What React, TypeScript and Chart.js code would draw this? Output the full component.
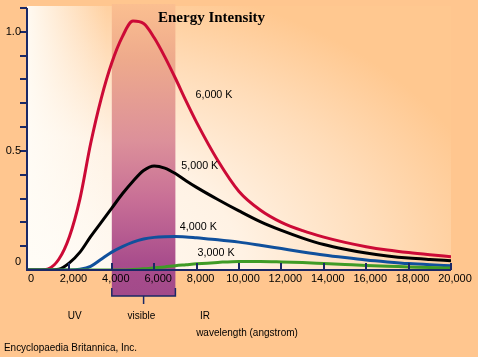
import React, { useEffect, useRef } from 'react';
import { Chart, registerables } from 'chart.js';

Chart.register(...registerables);

// ---- data ----
const wavelengths = [0, 500, 1000, 1500, 2000, 2500, 3000, 3500, 4000, 4500, 5000, 5500, 6000, 6500, 7000, 7500, 8000, 9000, 10000, 11000, 12000, 13000, 14000, 15000, 16000, 17000, 18000, 19000, 20000];
const intensity6000K = [0, 0, 0.005, 0.045, 0.14, 0.3, 0.53, 0.72, 0.87, 0.98, 1.045, 1.035, 0.975, 0.895, 0.805, 0.71, 0.62, 0.46, 0.33, 0.252, 0.2, 0.165, 0.138, 0.116, 0.098, 0.084, 0.073, 0.064, 0.056];
const intensity5000K = [0, 0, 0, 0.003, 0.03, 0.075, 0.14, 0.2, 0.26, 0.32, 0.373, 0.418, 0.437, 0.428, 0.405, 0.375, 0.347, 0.296, 0.248, 0.203, 0.166, 0.134, 0.107, 0.087, 0.071, 0.059, 0.05, 0.044, 0.039];
const intensity4000K = [0, 0, 0, 0, 0, 0.003, 0.015, 0.045, 0.075, 0.098, 0.117, 0.13, 0.137, 0.14, 0.141, 0.139, 0.135, 0.127, 0.117, 0.104, 0.09, 0.076, 0.063, 0.052, 0.042, 0.034, 0.027, 0.022, 0.018];
const intensity3000K = [0, 0, 0, 0, 0, 0, 0, 0, 0, 0, 0.002, 0.005, 0.009, 0.013, 0.018, 0.022, 0.026, 0.032, 0.036, 0.036, 0.034, 0.031, 0.027, 0.023, 0.019, 0.016, 0.013, 0.01, 0.008];
const seriesLabels = ['6,000 K', '5,000 K', '4,000 K', '3,000 K'];
const xTickValues = [0, 2000, 4000, 6000, 8000, 10000, 12000, 14000, 16000, 18000, 20000];
const yMinorTicks = [0.1, 0.2, 0.3, 0.4, 0.5, 0.6, 0.7, 0.8, 0.9, 1.0, 1.1];
const yLabelValues = [0, 0.5, 1.0];
const yTickLabels = ['0', '0.5', '1.0'];
const visibleRange = [4000, 7000];
const regionLabels = ['UV', 'visible', 'IR'];
const regionCenters = [2250, 5400, 8400];
const titleText = 'Energy Intensity';
const axisTitle = 'wavelength (angstrom)';
const creditText = 'Encyclopaedia Britannica, Inc.';

const AXIS = '#1a2866';
const SANS = '"Liberation Sans", Arial, sans-serif';

const decorPlugin = {
  id: 'decor',
  beforeDraw(chart: any) {
    const { ctx, chartArea: a, width, height } = chart;
    ctx.save();
    ctx.fillStyle = '#ffc68f';
    ctx.fillRect(0, 0, width, height);
    // plot area glow
    ctx.save();
    ctx.beginPath();
    ctx.rect(a.left, a.top - 2, a.right - a.left, a.bottom - a.top + 2);
    ctx.clip();
    ctx.save();
    ctx.translate(a.left, a.bottom);
    ctx.scale(1.6, 1);
    const g = ctx.createRadialGradient(0, 0, 0, 0, 0, 300);
    g.addColorStop(0, '#fffcf7');
    g.addColorStop(0.45, '#fff2e4');
    g.addColorStop(0.75, '#ffdcb8');
    g.addColorStop(1, '#ffc890');
    ctx.fillStyle = g;
    ctx.fillRect(-50, -400, 400, 460);
    ctx.restore();
    const lg = ctx.createLinearGradient(a.left, 0, a.left + 80, 0);
    lg.addColorStop(0, 'rgba(255,252,246,0.95)');
    lg.addColorStop(1, 'rgba(255,252,246,0)');
    ctx.fillStyle = lg;
    ctx.fillRect(a.left, a.top - 2, 80, a.bottom - a.top + 2);
    ctx.restore();
    ctx.restore();
  },
  beforeDatasetsDraw(chart: any) {
    const { ctx, scales } = chart;
    const xs = scales.x;
    const x0 = xs.getPixelForValue(visibleRange[0]);
    const x1 = xs.getPixelForValue(visibleRange[1]);
    const top = 4;
    const bottom = 296;
    ctx.save();
    const g = ctx.createLinearGradient(0, top, 0, bottom);
    g.addColorStop(0, '#fbbf90');
    g.addColorStop(0.19, '#eeaa8c');
    g.addColorStop(0.47, '#dc909a');
    g.addColorStop(0.67, '#c86f96');
    g.addColorStop(0.89, '#a84c8c');
    g.addColorStop(1, '#a24a8a');
    ctx.fillStyle = g;
    ctx.fillRect(x0, top, x1 - x0, bottom - top);
    ctx.restore();
  },
  afterDraw(chart: any) {
    const { ctx, chartArea: a, scales } = chart;
    const xs = scales.x;
    const ys = scales.y;
    ctx.save();
    ctx.strokeStyle = AXIS;
    ctx.lineWidth = 2;
    const yTop = ys.getPixelForValue(1.1);
    // axes
    ctx.beginPath();
    ctx.moveTo(a.left, yTop);
    ctx.lineTo(a.left, a.bottom);
    ctx.lineTo(a.right, a.bottom);
    ctx.stroke();
    // y ticks
    yMinorTicks.forEach((v) => {
      const y = Math.round(ys.getPixelForValue(v));
      ctx.beginPath();
      ctx.moveTo(a.left - 7, y);
      ctx.lineTo(a.left, y);
      ctx.stroke();
    });
    // x ticks (inward)
    xTickValues.forEach((v) => {
      if (v === 0) return;
      const x = Math.round(xs.getPixelForValue(v));
      ctx.beginPath();
      ctx.moveTo(x, a.bottom);
      ctx.lineTo(x, a.bottom - 7);
      ctx.stroke();
    });
    // bracket for visible band
    const x0 = xs.getPixelForValue(visibleRange[0]);
    const x1 = xs.getPixelForValue(visibleRange[1]);
    ctx.lineWidth = 1.5;
    ctx.beginPath();
    ctx.moveTo(x0, 288);
    ctx.lineTo(x0, 296);
    ctx.lineTo(x1, 296);
    ctx.lineTo(x1, 288);
    ctx.moveTo((x0 + x1) / 2, 296);
    ctx.lineTo((x0 + x1) / 2, 304);
    ctx.stroke();

    ctx.fillStyle = '#000';
    ctx.textBaseline = 'middle';
    // y labels
    ctx.font = `11px ${SANS}`;
    ctx.textAlign = 'right';
    yLabelValues.forEach((v, i) => {
      let y = ys.getPixelForValue(v);
      if (v === 0) y -= 8;
      ctx.fillText(yTickLabels[i], 21, y);
    });
    // x labels
    ctx.textAlign = 'center';
    xTickValues.forEach((v) => {
      const x = xs.getPixelForValue(v) + 4;
      ctx.fillText(v.toLocaleString('en-US'), x, a.bottom + 9, 36);
    });
    // curve labels
    const curveLabelPos = [
      [8820, 0.735],
      [8150, 0.438],
      [8080, 0.182],
      [8920, 0.072],
    ];
    seriesLabels.forEach((t, i) => {
      const [lx, ly] = curveLabelPos[i];
      ctx.fillText(t, xs.getPixelForValue(lx), ys.getPixelForValue(ly), 37);
    });
    // region labels
    ctx.font = `10px ${SANS}`;
    regionLabels.forEach((t, i) => {
      ctx.fillText(t, xs.getPixelForValue(regionCenters[i]), 316);
    });
    ctx.fillText(axisTitle, 247, 333.5, 104);
    ctx.textAlign = 'left';
    ctx.fillText(creditText, 4, 348, 133);
    // title
    ctx.font = `bold 15px "Liberation Serif", "Times New Roman", serif`;
    ctx.textAlign = 'left';
    ctx.textBaseline = 'alphabetic';
    ctx.fillText(titleText, 158, 22, 111);
    ctx.restore();
  },
};

export default function App() {
  const ref = useRef<HTMLCanvasElement | null>(null);
  useEffect(() => {
    if (!ref.current) return;
    const mk = (label: string, data: number[], color: string) => ({
      label,
      data: wavelengths.map((w, i) => ({ x: w, y: data[i] })),
      borderColor: color,
      borderWidth: 3,
      pointRadius: 0,
      fill: false,
      cubicInterpolationMode: 'monotone' as const,
    });
    const chart = new Chart(ref.current, {
      type: 'line',
      data: {
        datasets: [
          mk(seriesLabels[3], intensity3000K, '#3f9b26'),
          mk(seriesLabels[2], intensity4000K, '#10509c'),
          mk(seriesLabels[1], intensity5000K, '#000000'),
          mk(seriesLabels[0], intensity6000K, '#cc0a36'),
        ],
      },
      options: {
        animation: false,
        responsive: false,
        devicePixelRatio: 1,
        layout: { padding: { left: 27, right: 27, top: 8, bottom: 87 } },
        plugins: { legend: { display: false }, tooltip: { enabled: false } },
        scales: {
          x: { type: 'linear', min: 0, max: 20000, display: false },
          y: { type: 'linear', min: 0, max: 1.1, display: false },
        },
      },
      plugins: [decorPlugin],
    });
    return () => chart.destroy();
  }, []);
  return (
    <div style={{ position: 'fixed', left: 0, top: 0, width: 478, height: 357 }}>
      <canvas ref={ref} width={478} height={357} style={{ display: 'block', width: 478, height: 357 }} />
    </div>
  );
}
